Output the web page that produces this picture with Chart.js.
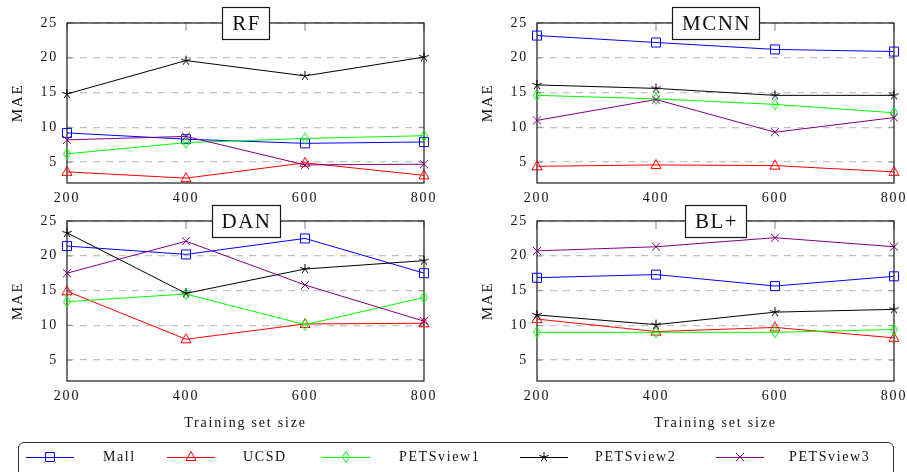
<!DOCTYPE html>
<html>
<head>
<meta charset="utf-8">
<script src="https://cdn.jsdelivr.net/npm/chart.js@4.4.0/dist/chart.umd.min.js"></script>
<style>
  body { margin: 0; width: 907px; height: 472px; overflow: hidden; background: #fff; position: relative; font-family: "Liberation Serif", serif; }
  canvas.panel { position: absolute; }
  #legend { position: absolute; left: 18px; top: 442px; width: 876px; height: 50px; border: 1.2px solid #333; border-radius: 6px; box-sizing: border-box; }
  .lg-sample { position: absolute; }
  .lg-text { position: absolute; font-size: 14px; letter-spacing: 1.6px; line-height: 16px; color: #111; }
</style>
</head>
<body>
<canvas id="c_rf" class="panel" width="450" height="210" style="left:0;top:0"></canvas>
<canvas id="c_mcnn" class="panel" width="457" height="210" style="left:450px;top:0"></canvas>
<canvas id="c_dan" class="panel" width="450" height="240" style="left:0;top:200px"></canvas>
<canvas id="c_bl" class="panel" width="457" height="240" style="left:450px;top:200px"></canvas>
<div id="legend"></div>
<script>
// training set sizes and y ticks
const sizes = ['200', '400', '600', '800']
const yTicks = [5, 10, 15, 20, 25]
const seriesNames = ['Mall', 'UCSD', 'PETSview1', 'PETSview2', 'PETSview3']

// MAE per method, rows in the order of seriesNames
const rfData = [
  [9.2, 8.3, 7.7, 7.9],
  [3.6, 2.7, 4.9, 3.1],
  [6.2, 7.8, 8.4, 8.8],
  [14.8, 19.6, 17.4, 20.1],
  [8.2, 8.7, 4.6, 4.7]
]
const mcnnData = [
  [23.2, 22.2, 21.2, 20.9],
  [4.4, 4.6, 4.5, 3.6],
  [14.6, 14.1, 13.3, 12.1],
  [16.1, 15.6, 14.6, 14.6],
  [11.0, 14.0, 9.3, 11.4]
]
const danData = [
  [21.4, 20.2, 22.5, 17.5],
  [14.9, 8.0, 10.2, 10.3],
  [13.4, 14.5, 10.1, 14.0],
  [23.3, 14.6, 18.1, 19.3],
  [17.5, 22.1, 15.8, 10.6]
]
const blData = [
  [16.85, 17.3, 15.65, 17.05],
  [10.9, 9.1, 9.7, 8.2],
  [9.0, 9.0, 9.0, 9.4],
  [11.5, 10.1, 11.9, 12.3],
  [20.7, 21.3, 22.6, 21.3]
]

const colors = ['#0000ff', '#ff0000', '#00ff00', '#000000', '#800080']
const shapes = ['square', 'triangle', 'diamond', 'star', 'cross']

Chart.defaults.font.family = '"Liberation Serif", serif'
Chart.defaults.color = '#111'

function makeMarker(shape, color) {
  let c = document.createElement('canvas')
  c.width = 14; c.height = 14
  let g = c.getContext('2d')
  g.strokeStyle = color
  g.lineWidth = 1
  g.beginPath()
  if (shape == 'square') {
    g.rect(2.5, 2.5, 9, 9)
  } else if (shape == 'triangle') {
    g.moveTo(7, 1.5); g.lineTo(12, 10.5); g.lineTo(2, 10.5); g.closePath()
  } else if (shape == 'diamond') {
    g.moveTo(7, 1.5); g.lineTo(10.5, 7); g.lineTo(7, 12.5); g.lineTo(3.5, 7); g.closePath()
  } else if (shape == 'star') {
    for (let k = 0; k < 5; k++) {
      let a = (-90 + 72 * k) * Math.PI / 180
      g.moveTo(7, 7); g.lineTo(7 + 5 * Math.cos(a), 7 + 5 * Math.sin(a))
    }
  } else {
    g.moveTo(3, 3); g.lineTo(11, 11); g.moveTo(11, 3); g.lineTo(3, 11)
  }
  g.stroke()
  return c
}

const markers = shapes.map((s, i) => makeMarker(s, colors[i]))

// frame, inner ticks and the boxed title
const boxFrame = {
  id: 'boxFrame',
  beforeDraw(chart) {
    chart.ctx.letterSpacing = '1.8px'
  },
  beforeDatasetsDraw(chart) {
    const { ctx, chartArea: a, scales: { x, y } } = chart
    ctx.save()
    ctx.strokeStyle = '#9a9a9a'
    ctx.lineWidth = 1.2
    ctx.beginPath()
    sizes.forEach((s, i) => {
      let px = x.getPixelForTick(i)
      ctx.moveTo(px, a.top); ctx.lineTo(px, a.top + 8)
    })
    yTicks.forEach(v => {
      let py = y.getPixelForValue(v)
      ctx.moveTo(a.left, py); ctx.lineTo(a.left + 5, py)
      ctx.moveTo(a.right, py); ctx.lineTo(a.right - 5, py)
    })
    ctx.stroke()
    ctx.strokeStyle = '#1a1a1a'
    ctx.lineWidth = 1.2
    ctx.strokeRect(a.left, a.top, a.right - a.left, a.bottom - a.top)
    ctx.restore()
  },
  afterDraw(chart, args, opts) {
    const { ctx, chartArea: a } = chart
    ctx.save()
    ctx.font = '21px "Liberation Serif", serif'
    ctx.letterSpacing = '1.5px'
    let w = ctx.measureText(opts.text).width
    let bw = Math.round(w + 18), bh = 32
    let cx = (a.left + a.right) / 2
    let bx = Math.round(cx - bw / 2) + 0.5, by = Math.round(a.top - bh / 2) + 0.5
    ctx.fillStyle = '#fff'
    ctx.fillRect(bx, by, bw, bh)
    ctx.strokeStyle = '#1a1a1a'
    ctx.lineWidth = 1.2
    ctx.strokeRect(bx, by, bw, bh)
    ctx.fillStyle = '#111'
    ctx.textAlign = 'center'
    ctx.textBaseline = 'middle'
    ctx.fillText(opts.text, cx + 1, a.top + 1)
    ctx.restore()
  }
}

function makePanel(id, title, values, padLeft, padRight, padTop, xHeight, showXTitle) {
  let ctx = document.getElementById(id).getContext('2d')
  return new Chart(ctx, {
    type: 'line',
    data: {
      labels: sizes,
      datasets: seriesNames.map((n, i) => ({
        label: n,
        data: values[i],
        borderColor: colors[i],
        borderWidth: 1,
        pointStyle: markers[i],
        pointRadius: 5,
        pointHoverRadius: 5,
        fill: false,
        tension: 0,
        clip: false,
        order: 5 - i
      }))
    },
    options: {
      responsive: false,
      animation: false,
      devicePixelRatio: 1,
      events: [],
      layout: { padding: { left: padLeft, right: padRight, top: padTop, bottom: 0 } },
      plugins: {
        legend: { display: false },
        tooltip: { enabled: false },
        boxFrame: { text: title }
      },
      scales: {
        x: {
          type: 'category',
          offset: false,
          grid: { display: false, drawTicks: false },
          border: { display: false },
          ticks: { font: { size: 14 }, padding: 7, maxRotation: 0, autoSkip: false, color: '#111' },
          title: { display: showXTitle, text: 'Training set size', font: { size: 14 }, padding: { top: 0, bottom: 8 }, color: '#111' },
          afterFit: s => { s.height = xHeight; s.paddingLeft = 0; s.paddingRight = 0 }
        },
        y: {
          min: 2,
          max: 25,
          afterBuildTicks: s => { s.ticks = yTicks.map(v => ({ value: v })) },
          grid: { color: '#c4c4c4', lineWidth: 1.3, drawTicks: false },
          border: { display: false, dash: [7, 6] },
          ticks: { font: { size: 14 }, padding: 9, color: '#111' },
          title: { display: true, text: 'MAE', font: { size: 15 }, padding: 0, color: '#111' },
          afterFit: s => { s.width = 58; s.paddingTop = 0; s.paddingBottom = 0 }
        }
      }
    },
    plugins: [boxFrame]
  })
}

makePanel('c_rf', 'RF', rfData, 9, 26, 23, 27, false)
makePanel('c_mcnn', 'MCNN', mcnnData, 29, 13, 23, 27, false)
makePanel('c_dan', 'DAN', danData, 9, 26, 21, 59, true)
makePanel('c_bl', 'BL+', blData, 29, 13, 21, 59, true)

// legend along the bottom
const legendLineX = [26, 167, 322, 520, 716]
const legendTextX = [103, 243, 399, 595, 789]

seriesNames.forEach((n, i) => {
  let c = document.createElement('canvas')
  c.width = 48; c.height = 16
  c.className = 'lg-sample'
  c.style.left = legendLineX[i] + 'px'
  c.style.top = '449px'
  let g = c.getContext('2d')
  g.strokeStyle = colors[i]
  g.lineWidth = 1
  g.beginPath(); g.moveTo(0, 8.5); g.lineTo(48, 8.5); g.stroke()
  g.drawImage(markers[i], 17, 1)
  document.body.appendChild(c)

  let t = document.createElement('div')
  t.className = 'lg-text'
  t.style.left = legendTextX[i] + 'px'
  t.style.top = '449px'
  t.textContent = n
  document.body.appendChild(t)
})
</script>
</body>
</html>
